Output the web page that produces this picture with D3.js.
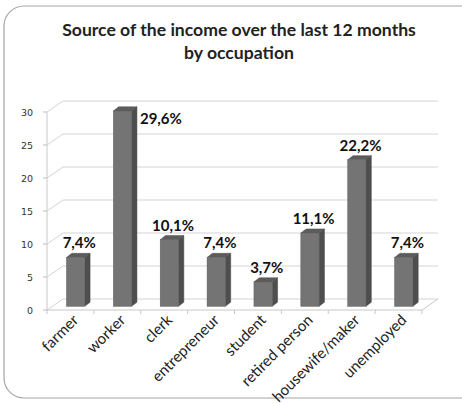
<!DOCTYPE html>
<html><head><meta charset="utf-8">
<script src="https://cdn.jsdelivr.net/npm/d3@7"></script>
<style>body{margin:0;background:#fff}svg{display:block}</style>
</head><body><svg id="c" width="462" height="404"></svg>
<script>
const titleLines = ["Source of the income over the last 12 months", "by occupation"];
const categories = ["farmer","worker","clerk","entrepreneur","student","retired person","housewife/maker","unemployed"];
const values = [7.4, 29.6, 10.1, 7.4, 3.7, 11.1, 22.2, 7.4];
const valueLabels = ["7,4%","29,6%","10,1%","7,4%","3,7%","11,1%","22,2%","7,4%"];
const yTicks = [0,5,10,15,20,25,30];

const svg = d3.select("#c");
svg.append("rect").attr("x",4).attr("y",6).attr("width",480).attr("height",392)
  .attr("rx",20).attr("fill","#fff").attr("stroke","#a6a6a6").attr("stroke-width",1.2);

svg.selectAll("text.title").data(titleLines).enter().append("text")
  .attr("x",239).attr("y",(d,i)=>36+i*23).attr("text-anchor","middle")
  .attr("font-family","Lato").attr("font-weight","bold").attr("font-size",17.6)
  .attr("fill","#222").text(d=>d);

const x0=47,x1=422,yB=310,yT=112;
const DX=16, DY=-11;
const x = d3.scaleBand().domain(categories).range([x0,x1]);
const y = d3.scaleLinear().domain([0,30]).range([yB,yT]);
const g = svg.append("g");
const gridC="#d4d4d4";
yTicks.forEach(t=>{
  g.append("line").attr("x1",x0+DX).attr("x2",x1+DX).attr("y1",y(t)+DY).attr("y2",y(t)+DY).attr("stroke",gridC);
  g.append("line").attr("x1",x0).attr("x2",x0+DX).attr("y1",y(t)).attr("y2",y(t)+DY).attr("stroke",gridC);
  g.append("line").attr("x1",x0-4).attr("x2",x0).attr("y1",y(t)).attr("y2",y(t)).attr("stroke","#bbb");
  g.append("text").attr("x",33).attr("y",y(t)+3.5).attr("text-anchor","end")
    .attr("font-family","DejaVu Sans").attr("font-size",9.5).attr("fill","#333").text(t);
});
g.append("line").attr("x1",x0).attr("x2",x0).attr("y1",yB).attr("y2",yT).attr("stroke","#c8c8c8");
g.append("line").attr("x1",x0).attr("x2",x1).attr("y1",yB).attr("y2",yB).attr("stroke","#c8c8c8");
g.append("line").attr("x1",x1).attr("x2",x1+DX).attr("y1",yB).attr("y2",yB+DY).attr("stroke","#c8c8c8");
categories.concat([null]).forEach((c,i)=>{
  const xx = c===null? x1 : x(c);
  g.append("line").attr("x1",xx).attr("x2",xx).attr("y1",yB).attr("y2",yB+4).attr("stroke","#c8c8c8");
});

const bw = x.bandwidth()*0.39, bOff = x.bandwidth()*0.415;
const fdx = DX/3, fdy = DY/3, ddx = DX/3, ddy = DY/3 - 0.5;
categories.forEach((c,i)=>{
  const v=values[i];
  const L = x(c)+bOff, R=L+bw;
  const top = y(v)+fdy, bot = y(0)+fdy;
  g.append("path").attr("d",`M${R},${bot}L${R},${top}L${R+ddx},${top+ddy}L${R+ddx},${bot+ddy}Z`)
    .attr("fill","#4e4e4e").attr("stroke","#444").attr("stroke-width",0.5);
  g.append("path").attr("d",`M${L},${top}L${R},${top}L${R+ddx},${top+ddy}L${L+ddx},${top+ddy}Z`)
    .attr("fill","#5c5c5c").attr("stroke","#505050").attr("stroke-width",0.5);
  g.append("rect").attr("x",L).attr("y",top).attr("width",bw).attr("height",bot-top)
    .attr("fill","#747474").attr("stroke","#606060").attr("stroke-width",0.5);
  const lab = g.append("text").attr("font-family","Lato").attr("font-weight","bold")
    .attr("font-size",15).attr("fill","#111").text(valueLabels[i]);
  if (v>25) {
    lab.attr("x",R+ddx+3).attr("y",top+13).attr("text-anchor","start");
  } else {
    lab.attr("x",(L+R+ddx)/2+1).attr("y",top-9).attr("text-anchor","middle");
  }
});

categories.forEach(c=>{
  const cx = x(c)+x.bandwidth()/2+9, cy = yB+11;
  g.append("text").attr("transform",`translate(${cx},${cy}) rotate(-45)`)
    .attr("text-anchor","end").attr("font-family","Lato").attr("font-size",15.2)
    .attr("fill","#222").text(c);
});
</script></body></html>
